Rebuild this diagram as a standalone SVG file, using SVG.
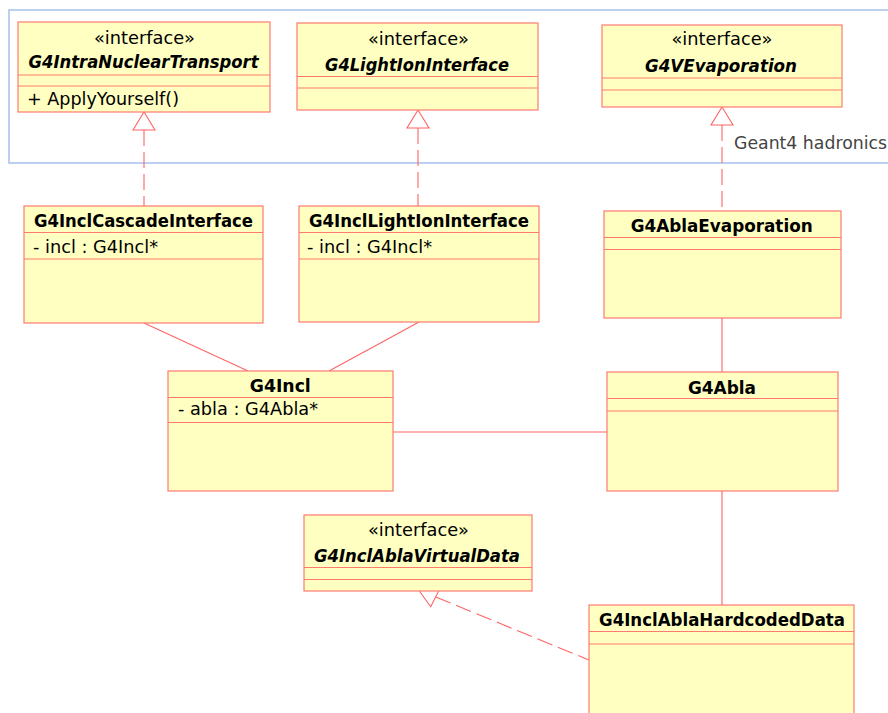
<svg xmlns="http://www.w3.org/2000/svg" width="888" height="713" viewBox="0 0 888 713">
  <defs>
    <style>
      .box { fill: #ffffc2; stroke: #ff7a70; stroke-width: 1.2; }
      .div { stroke: #ff7a70; stroke-width: 1.2; fill: none; }
      .t { font-family: "DejaVu Sans", "Liberation Sans", sans-serif; font-size: 17.5px; fill: #000; }
      .c { text-anchor: middle; }
      .b { font-weight: bold; font-size: 17px; }
      .bi { font-weight: bold; font-style: italic; font-size: 17px; }
      .link { stroke: #ff6464; stroke-width: 1.1; fill: none; }
      .real { stroke: #ff6464; stroke-width: 1.1; fill: none; stroke-dasharray: 16 6; }
      .head { stroke: #ff6464; stroke-width: 1.1; fill: #ffffff; }
      .frame { fill: none; stroke: #aac4ee; stroke-width: 1.6; }
      .note { font-family: "DejaVu Sans", "Liberation Sans", sans-serif; font-size: 17.5px; fill: #444444; }
    </style>
  </defs>

  <!-- package frame -->
  <rect class="frame" x="9" y="10" width="900" height="153"/>
  <text class="note" x="734" y="149" textLength="153" lengthAdjust="spacingAndGlyphs">Geant4 hadronics</text>

  <g id="connectors">
    <!-- realizations -->
    <line class="real" x1="144" y1="130" x2="144" y2="206"/>
    <polygon class="head" points="144,112 133,130 155,130"/>
    <line class="real" x1="418" y1="128" x2="418" y2="206"/>
    <polygon class="head" points="418,110 407,128 429,128"/>
    <line class="real" x1="722" y1="125" x2="722" y2="211"/>
    <polygon class="head" points="722,107 711,125 733,125"/>
    <line class="real" x1="435.7" y1="597" x2="589" y2="660" stroke-dasharray="20 8"/>
    <polygon class="head" points="419,590.5 430.7,606.7 440.7,587"/>
    <!-- associations -->
    <line class="link" x1="144" y1="323" x2="248" y2="371"/>
    <line class="link" x1="419" y1="322" x2="329" y2="371"/>
    <line class="link" x1="393" y1="432" x2="607" y2="432"/>
    <line class="link" x1="722" y1="318" x2="722" y2="372"/>
    <line class="link" x1="722" y1="491" x2="722" y2="605"/>
  </g>

  <g id="G4IntraNuclearTransport">
    <rect class="box" x="18" y="22" width="252" height="90"/>
    <line class="div" x1="18" y1="75" x2="270" y2="75"/>
    <line class="div" x1="18" y1="86" x2="270" y2="86"/>
    <text class="t c" x="144.5" y="44" textLength="101" lengthAdjust="spacingAndGlyphs">«interface»</text>
    <text class="t c bi" x="143.5" y="68" textLength="230" lengthAdjust="spacingAndGlyphs">G4IntraNuclearTransport</text>
    <text class="t" x="27" y="105" textLength="152" lengthAdjust="spacingAndGlyphs">+ ApplyYourself()</text>
  </g>

  <g id="G4LightIonInterface">
    <rect class="box" x="297" y="23" width="241" height="87"/>
    <line class="div" x1="297" y1="76.5" x2="538" y2="76.5"/>
    <line class="div" x1="297" y1="88" x2="538" y2="88"/>
    <text class="t c" x="418.5" y="45" textLength="101" lengthAdjust="spacingAndGlyphs">«interface»</text>
    <text class="t c bi" x="417" y="71" textLength="184" lengthAdjust="spacingAndGlyphs">G4LightIonInterface</text>
  </g>

  <g id="G4VEvaporation">
    <rect class="box" x="602" y="25" width="240" height="82"/>
    <line class="div" x1="602" y1="78" x2="842" y2="78"/>
    <line class="div" x1="602" y1="90" x2="842" y2="90"/>
    <text class="t c" x="722" y="45" textLength="101" lengthAdjust="spacingAndGlyphs">«interface»</text>
    <text class="t c bi" x="721" y="72" textLength="152" lengthAdjust="spacingAndGlyphs">G4VEvaporation</text>
  </g>

  <g id="G4InclCascadeInterface">
    <rect class="box" x="24" y="206" width="239" height="117"/>
    <line class="div" x1="24" y1="232.5" x2="263" y2="232.5"/>
    <line class="div" x1="24" y1="259" x2="263" y2="259"/>
    <text class="t c b" x="143.5" y="227" textLength="219" lengthAdjust="spacingAndGlyphs">G4InclCascadeInterface</text>
    <text class="t" x="33" y="253" textLength="125" lengthAdjust="spacingAndGlyphs">- incl : G4Incl*</text>
  </g>

  <g id="G4InclLightIonInterface">
    <rect class="box" x="299" y="206" width="240" height="116"/>
    <line class="div" x1="299" y1="232.5" x2="539" y2="232.5"/>
    <line class="div" x1="299" y1="259" x2="539" y2="259"/>
    <text class="t c b" x="419" y="227" textLength="220" lengthAdjust="spacingAndGlyphs">G4InclLightIonInterface</text>
    <text class="t" x="307" y="253" textLength="125" lengthAdjust="spacingAndGlyphs">- incl : G4Incl*</text>
  </g>

  <g id="G4AblaEvaporation">
    <rect class="box" x="604" y="211" width="237" height="107"/>
    <line class="div" x1="604" y1="237.5" x2="841" y2="237.5"/>
    <line class="div" x1="604" y1="249.5" x2="841" y2="249.5"/>
    <text class="t c b" x="721.7" y="232" textLength="182" lengthAdjust="spacingAndGlyphs">G4AblaEvaporation</text>
  </g>

  <g id="G4Incl">
    <rect class="box" x="168" y="371" width="225" height="120"/>
    <line class="div" x1="168" y1="397.5" x2="393" y2="397.5"/>
    <line class="div" x1="168" y1="422.5" x2="393" y2="422.5"/>
    <text class="t c b" x="280.3" y="392" textLength="61" lengthAdjust="spacingAndGlyphs">G4Incl</text>
    <text class="t" x="178" y="415" textLength="140" lengthAdjust="spacingAndGlyphs">- abla : G4Abla*</text>
  </g>

  <g id="G4Abla">
    <rect class="box" x="607" y="372" width="231" height="119"/>
    <line class="div" x1="607" y1="398.5" x2="838" y2="398.5"/>
    <line class="div" x1="607" y1="411" x2="838" y2="411"/>
    <text class="t c b" x="722" y="393.5" textLength="68" lengthAdjust="spacingAndGlyphs">G4Abla</text>
  </g>

  <g id="G4InclAblaVirtualData">
    <rect class="box" x="304" y="515" width="228" height="76"/>
    <line class="div" x1="304" y1="567.5" x2="532" y2="567.5"/>
    <line class="div" x1="304" y1="579.5" x2="532" y2="579.5"/>
    <text class="t c" x="418.5" y="535.5" textLength="101" lengthAdjust="spacingAndGlyphs">«interface»</text>
    <text class="t c bi" x="417" y="562" textLength="206" lengthAdjust="spacingAndGlyphs">G4InclAblaVirtualData</text>
  </g>

  <g id="G4InclAblaHardcodedData">
    <rect class="box" x="589" y="605" width="265" height="130"/>
    <line class="div" x1="589" y1="631.5" x2="854" y2="631.5"/>
    <line class="div" x1="589" y1="644" x2="854" y2="644"/>
    <text class="t c b" x="722" y="625.5" textLength="246" lengthAdjust="spacingAndGlyphs">G4InclAblaHardcodedData</text>
  </g>
</svg>
